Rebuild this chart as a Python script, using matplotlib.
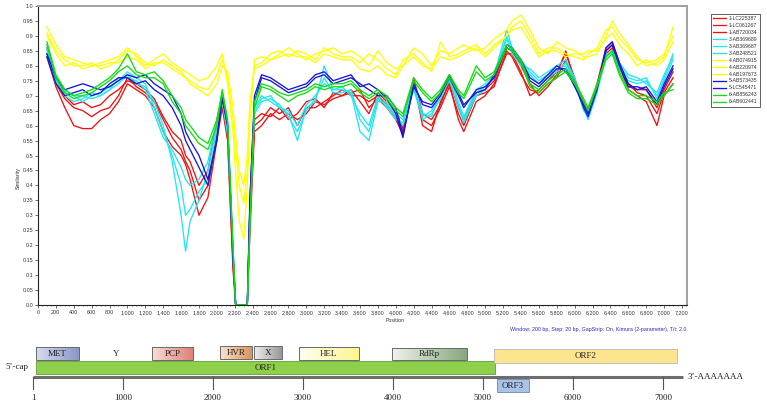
import matplotlib.pyplot as plt
import numpy as np
from matplotlib.colors import LinearSegmentedColormap
from matplotlib.patches import Rectangle
from matplotlib.ticker import MultipleLocator, FuncFormatter

plt.rcParams['font.family'] = ['Liberation Sans', 'DejaVu Sans']

# window positions (bp) shared by all similarity traces
pos = [100, 200, 300, 400, 500, 600, 700, 800, 900, 1000,
       1100, 1200, 1300, 1400, 1500, 1600, 1650, 1700, 1800, 1900,
       2000, 2060, 2120, 2180, 2210, 2250, 2300, 2340, 2370, 2420,
       2500, 2600, 2700, 2800, 2900, 3000, 3100, 3200, 3300, 3400,
       3500, 3600, 3700, 3800, 3900, 4000, 4080, 4200, 4300, 4400,
       4500, 4600, 4700, 4760, 4900, 5000, 5100, 5240, 5300, 5400,
       5500, 5600, 5700, 5800, 5900, 6000, 6100, 6150, 6250, 6350,
       6420, 6500, 6600, 6700, 6800, 6920, 7000, 7100]

lc225387 = [0.83, 0.73, 0.66, 0.60, 0.59, 0.59, 0.62, 0.64, 0.68, 0.74,
            0.72, 0.70, 0.66, 0.58, 0.53, 0.50, 0.47, 0.42, 0.30, 0.36,
            0.55, 0.66, 0.55, 0.12, 0.0, 0.0, 0.0, 0.0, 0.25, 0.58,
            0.60, 0.64, 0.62, 0.64, 0.62, 0.64, 0.68, 0.67, 0.69, 0.70,
            0.71, 0.72, 0.66, 0.69, 0.66, 0.62, 0.57, 0.75, 0.60, 0.58,
            0.68, 0.74, 0.62, 0.58, 0.68, 0.70, 0.74, 0.84, 0.84, 0.78,
            0.70, 0.72, 0.75, 0.78, 0.84, 0.76, 0.66, 0.66, 0.72, 0.85,
            0.87, 0.80, 0.72, 0.70, 0.68, 0.60, 0.70, 0.74]
lc061267 = [0.84, 0.74, 0.69, 0.66, 0.65, 0.63, 0.65, 0.66, 0.70, 0.76,
            0.73, 0.71, 0.68, 0.62, 0.56, 0.52, 0.48, 0.45, 0.35, 0.40,
            0.58, 0.68, 0.56, 0.14, 0.0, 0.0, 0.0, 0.0, 0.30, 0.60,
            0.62, 0.66, 0.64, 0.66, 0.60, 0.66, 0.66, 0.68, 0.70, 0.72,
            0.70, 0.70, 0.68, 0.70, 0.67, 0.63, 0.58, 0.74, 0.62, 0.60,
            0.66, 0.73, 0.64, 0.60, 0.70, 0.71, 0.73, 0.85, 0.83, 0.77,
            0.72, 0.71, 0.74, 0.76, 0.82, 0.74, 0.67, 0.65, 0.73, 0.84,
            0.86, 0.79, 0.74, 0.71, 0.70, 0.64, 0.71, 0.76]
ab720034 = [0.86, 0.75, 0.70, 0.67, 0.68, 0.66, 0.67, 0.70, 0.72, 0.75,
            0.74, 0.72, 0.69, 0.63, 0.58, 0.55, 0.50, 0.48, 0.40, 0.45,
            0.62, 0.70, 0.58, 0.16, 0.0, 0.0, 0.0, 0.0, 0.32, 0.62,
            0.64, 0.63, 0.66, 0.62, 0.64, 0.68, 0.69, 0.66, 0.71, 0.70,
            0.72, 0.68, 0.64, 0.71, 0.68, 0.65, 0.59, 0.76, 0.64, 0.62,
            0.67, 0.75, 0.66, 0.62, 0.71, 0.72, 0.75, 0.86, 0.85, 0.80,
            0.74, 0.70, 0.73, 0.77, 0.85, 0.75, 0.68, 0.64, 0.74, 0.86,
            0.88, 0.81, 0.73, 0.72, 0.72, 0.66, 0.72, 0.78]
ab369689 = [0.86, 0.75, 0.71, 0.70, 0.70, 0.69, 0.70, 0.72, 0.74, 0.77,
            0.74, 0.73, 0.68, 0.60, 0.48, 0.30, 0.18, 0.28, 0.35, 0.45,
            0.60, 0.69, 0.58, 0.18, 0.0, 0.0, 0.0, 0.0, 0.35, 0.66,
            0.70, 0.68, 0.66, 0.64, 0.55, 0.66, 0.68, 0.80, 0.72, 0.72,
            0.71, 0.58, 0.55, 0.68, 0.68, 0.64, 0.62, 0.73, 0.62, 0.64,
            0.69, 0.76, 0.66, 0.61, 0.70, 0.72, 0.77, 0.92, 0.86, 0.82,
            0.78, 0.75, 0.77, 0.79, 0.80, 0.74, 0.66, 0.62, 0.71, 0.83,
            0.85, 0.80, 0.76, 0.75, 0.76, 0.69, 0.76, 0.84]
ab369687 = [0.85, 0.76, 0.72, 0.70, 0.68, 0.70, 0.71, 0.73, 0.75, 0.78,
            0.76, 0.74, 0.66, 0.58, 0.50, 0.40, 0.30, 0.32, 0.38, 0.42,
            0.58, 0.68, 0.57, 0.17, 0.0, 0.0, 0.0, 0.0, 0.33, 0.64,
            0.68, 0.69, 0.67, 0.63, 0.58, 0.65, 0.69, 0.76, 0.71, 0.71,
            0.72, 0.62, 0.58, 0.69, 0.67, 0.63, 0.60, 0.72, 0.63, 0.65,
            0.70, 0.75, 0.67, 0.62, 0.71, 0.73, 0.76, 0.90, 0.85, 0.81,
            0.77, 0.74, 0.76, 0.78, 0.81, 0.75, 0.65, 0.63, 0.72, 0.84,
            0.84, 0.79, 0.75, 0.74, 0.75, 0.70, 0.75, 0.82]
ab248521 = [0.84, 0.74, 0.70, 0.68, 0.69, 0.71, 0.70, 0.72, 0.76, 0.76,
            0.75, 0.72, 0.64, 0.56, 0.52, 0.46, 0.42, 0.40, 0.42, 0.48,
            0.62, 0.70, 0.59, 0.17, 0.0, 0.0, 0.0, 0.0, 0.34, 0.65,
            0.69, 0.70, 0.66, 0.65, 0.60, 0.67, 0.70, 0.74, 0.72, 0.73,
            0.70, 0.64, 0.60, 0.70, 0.66, 0.62, 0.61, 0.74, 0.64, 0.63,
            0.71, 0.77, 0.68, 0.63, 0.72, 0.74, 0.77, 0.89, 0.84, 0.80,
            0.79, 0.76, 0.78, 0.80, 0.82, 0.76, 0.66, 0.64, 0.73, 0.83,
            0.85, 0.81, 0.77, 0.76, 0.74, 0.71, 0.77, 0.83]
ab074915 = [0.93, 0.87, 0.83, 0.82, 0.81, 0.80, 0.81, 0.82, 0.83, 0.86,
            0.83, 0.80, 0.82, 0.84, 0.81, 0.79, 0.78, 0.77, 0.75, 0.76,
            0.80, 0.84, 0.74, 0.58, 0.44, 0.28, 0.22, 0.40, 0.62, 0.82,
            0.83, 0.82, 0.84, 0.86, 0.84, 0.82, 0.84, 0.85, 0.86, 0.84,
            0.85, 0.83, 0.80, 0.85, 0.81, 0.79, 0.80, 0.86, 0.84, 0.80,
            0.85, 0.84, 0.86, 0.87, 0.85, 0.86, 0.89, 0.92, 0.95, 0.97,
            0.92, 0.86, 0.84, 0.88, 0.86, 0.85, 0.83, 0.83, 0.84, 0.90,
            0.95, 0.91, 0.87, 0.83, 0.80, 0.81, 0.83, 0.93]
ab220974 = [0.91, 0.85, 0.82, 0.80, 0.80, 0.81, 0.79, 0.80, 0.82, 0.85,
            0.84, 0.81, 0.80, 0.82, 0.80, 0.78, 0.76, 0.75, 0.73, 0.72,
            0.77, 0.82, 0.76, 0.62, 0.52, 0.40, 0.34, 0.45, 0.66, 0.80,
            0.81, 0.84, 0.85, 0.83, 0.85, 0.84, 0.82, 0.86, 0.84, 0.83,
            0.83, 0.81, 0.84, 0.82, 0.79, 0.77, 0.82, 0.84, 0.81, 0.78,
            0.88, 0.83, 0.84, 0.85, 0.87, 0.84, 0.87, 0.90, 0.93, 0.95,
            0.90, 0.84, 0.86, 0.86, 0.84, 0.83, 0.82, 0.84, 0.86, 0.92,
            0.93, 0.89, 0.86, 0.82, 0.81, 0.82, 0.84, 0.90]
ab197673 = [0.90, 0.84, 0.80, 0.81, 0.79, 0.80, 0.80, 0.81, 0.81, 0.83,
            0.82, 0.79, 0.81, 0.81, 0.79, 0.77, 0.76, 0.74, 0.72, 0.70,
            0.74, 0.80, 0.78, 0.66, 0.56, 0.45, 0.40, 0.50, 0.68, 0.79,
            0.80, 0.82, 0.83, 0.84, 0.83, 0.83, 0.81, 0.84, 0.83, 0.82,
            0.82, 0.79, 0.78, 0.80, 0.77, 0.76, 0.80, 0.83, 0.80, 0.79,
            0.83, 0.82, 0.83, 0.84, 0.86, 0.83, 0.86, 0.90, 0.92, 0.93,
            0.88, 0.83, 0.85, 0.85, 0.83, 0.84, 0.84, 0.85, 0.85, 0.89,
            0.91, 0.87, 0.84, 0.80, 0.82, 0.80, 0.82, 0.88]
ab573435 = [0.84, 0.76, 0.72, 0.73, 0.74, 0.73, 0.72, 0.73, 0.75, 0.77,
            0.76, 0.77, 0.74, 0.72, 0.70, 0.64, 0.58, 0.55, 0.50, 0.42,
            0.55, 0.70, 0.60, 0.17, 0.0, 0.0, 0.0, 0.0, 0.36, 0.70,
            0.77, 0.76, 0.74, 0.72, 0.73, 0.74, 0.77, 0.78, 0.75, 0.76,
            0.77, 0.73, 0.74, 0.72, 0.69, 0.64, 0.56, 0.74, 0.67, 0.66,
            0.70, 0.76, 0.70, 0.66, 0.72, 0.73, 0.76, 0.87, 0.86, 0.82,
            0.76, 0.74, 0.77, 0.80, 0.78, 0.74, 0.66, 0.63, 0.72, 0.86,
            0.88, 0.81, 0.74, 0.72, 0.73, 0.68, 0.74, 0.80]
lc545471 = [0.83, 0.74, 0.70, 0.71, 0.72, 0.70, 0.71, 0.74, 0.76, 0.76,
            0.74, 0.75, 0.72, 0.70, 0.66, 0.60, 0.55, 0.52, 0.46, 0.40,
            0.56, 0.69, 0.60, 0.16, 0.0, 0.0, 0.0, 0.0, 0.35, 0.68,
            0.76, 0.75, 0.73, 0.71, 0.72, 0.73, 0.76, 0.77, 0.74, 0.75,
            0.76, 0.74, 0.72, 0.70, 0.70, 0.66, 0.57, 0.73, 0.68, 0.67,
            0.71, 0.77, 0.71, 0.67, 0.71, 0.72, 0.77, 0.86, 0.85, 0.81,
            0.75, 0.73, 0.76, 0.79, 0.79, 0.73, 0.67, 0.64, 0.73, 0.85,
            0.87, 0.80, 0.73, 0.73, 0.72, 0.67, 0.73, 0.79]
ab856243 = [0.88, 0.77, 0.72, 0.70, 0.71, 0.72, 0.74, 0.76, 0.79, 0.84,
            0.78, 0.77, 0.78, 0.75, 0.70, 0.66, 0.62, 0.60, 0.56, 0.54,
            0.62, 0.72, 0.62, 0.20, 0.0, 0.0, 0.0, 0.0, 0.28, 0.68,
            0.74, 0.73, 0.71, 0.70, 0.71, 0.72, 0.74, 0.73, 0.74, 0.74,
            0.75, 0.72, 0.70, 0.72, 0.70, 0.66, 0.64, 0.76, 0.72, 0.69,
            0.72, 0.77, 0.72, 0.70, 0.80, 0.76, 0.78, 0.87, 0.86, 0.82,
            0.74, 0.72, 0.75, 0.77, 0.79, 0.75, 0.69, 0.66, 0.74, 0.83,
            0.85, 0.78, 0.72, 0.70, 0.70, 0.68, 0.71, 0.72]
ab602441 = [0.87, 0.76, 0.71, 0.69, 0.70, 0.71, 0.73, 0.75, 0.78, 0.80,
            0.77, 0.76, 0.76, 0.74, 0.68, 0.64, 0.60, 0.58, 0.54, 0.52,
            0.60, 0.71, 0.61, 0.19, 0.0, 0.0, 0.0, 0.0, 0.26, 0.66,
            0.73, 0.72, 0.70, 0.68, 0.70, 0.71, 0.73, 0.72, 0.73, 0.73,
            0.74, 0.71, 0.69, 0.71, 0.69, 0.65, 0.63, 0.75, 0.71, 0.68,
            0.71, 0.76, 0.71, 0.69, 0.78, 0.75, 0.77, 0.86, 0.85, 0.81,
            0.73, 0.71, 0.74, 0.76, 0.78, 0.74, 0.68, 0.65, 0.73, 0.82,
            0.84, 0.77, 0.71, 0.69, 0.69, 0.67, 0.70, 0.74]

names = ['1-LC225387', '1-LC061267', '1-AB720034', '3-AB369689', '3-AB369687',
         '3-AB248521', '4-AB074915', '4-AB220974', '4-AB197673', '5-AB573435',
         '5-LC545471', '6-AB856243', '6-AB602441']
series = [lc225387, lc061267, ab720034, ab369689, ab369687, ab248521,
          ab074915, ab220974, ab197673, ab573435, lc545471, ab856243, ab602441]
colors = ['#ee1111'] * 3 + ['#22e6f2'] * 3 + ['#ffff00'] * 3 + ['#1515dd'] * 2 + ['#11dd11'] * 2

# genome map (HEV) regions: name, start, end
domains = [('MET', 34, 512), ('PCP', 1323, 1779), ('HVR', 2078, 2433),
           ('X', 2456, 2767), ('HEL', 2956, 3622), ('RdRp', 3989, 4822)]
orf1 = (34, 5134)
orf2 = (5122, 7156)
orf3 = (5156, 5511)
genome_len = 7223
map_ticks = [1, 1000, 2000, 3000, 4000, 5000, 6000, 7000]

W, H = 767, 405
fig = plt.figure(figsize=(W / 100, H / 100), dpi=100)

# ---------- similarity plot ----------
ax = fig.add_axes([38 / W, 1 - 305 / H, 649 / W, 299 / H])
for s, c, n in zip(series, colors, names):
    ax.plot(pos, s, color=c, lw=0.95, label=n)

ax.set_xlim(0, 7256)
ax.set_ylim(0, 1.0)
ax.xaxis.set_major_locator(MultipleLocator(200))
ax.xaxis.set_minor_locator(MultipleLocator(50))
ax.yaxis.set_major_locator(MultipleLocator(0.05))
ax.xaxis.set_major_formatter(FuncFormatter(lambda v, p: f'{int(v):,}'))
ax.yaxis.set_major_formatter(FuncFormatter(lambda v, p: f'{v:.2f}'.rstrip('0') if round(v * 100) % 10 else f'{v:.1f}'))
ax.tick_params(labelsize=3.9, length=2, width=0.5, pad=1.5, colors='#333333')
ax.tick_params(which='minor', length=1, width=0.4, colors='#333333')
for sp in ['left', 'bottom']:
    ax.spines[sp].set_color('#222222')
    ax.spines[sp].set_linewidth(0.8)
for sp in ['top', 'right']:
    ax.spines[sp].set_color('#a0a0a0')
    ax.spines[sp].set_linewidth(1.4)

fig.text(18 / W, 1 - 178 / H, 'Similarity', rotation=90, ha='center', va='center', fontsize=3.8, color='#333333')
fig.text(395 / W, 1 - 321 / H, 'Position', ha='center', va='center', fontsize=3.8, color='#333333')
fig.text(686 / W, 1 - 329 / H, 'Window: 200 bp, Step: 20 bp, GapStrip: On, Kimura (2-parameter), T/t: 2.0',
         ha='right', va='center', fontsize=3.8, color='#2a2ad0')

leg = fig.legend(loc='upper left', bbox_to_anchor=(708 / W, 1 - 11 / H), fontsize=3.7,
                 handlelength=2.6, handletextpad=0.5, labelspacing=0.38, borderpad=0.45,
                 fancybox=False, edgecolor='#444444', framealpha=1)
leg.get_frame().set_linewidth(0.6)
for t in leg.get_texts():
    t.set_color('#333333')

# ---------- genome map ----------
gx = fig.add_axes([0, 0, 1, 70 / H])
x_left = 1 - 33 / 0.09
x_right = 1 + (W - 33) / 0.09
gx.set_axis_off()
serif = ['Liberation Serif', 'DejaVu Serif']


def grad_box(x0, x1, y0, y1, c0, c1, edge, label):
    cmap = LinearSegmentedColormap.from_list('g', [c0, c1])
    gx.imshow(np.linspace(0, 1, 64).reshape(1, -1), cmap=cmap, extent=(x0, x1, y1, y0),
              aspect='auto', interpolation='bilinear', zorder=2)
    gx.add_patch(Rectangle((x0, y0), x1 - x0, y1 - y0, fill=False, ec=edge, lw=0.7, zorder=3))
    gx.text((x0 + x1) / 2, (y0 + y1) / 2 + 0.5, label, ha='center', va='center',
            fontsize=6.5, family=serif, color='#222222', zorder=4)


box_colors = {'MET': ('#d6dcef', '#8796c8'), 'PCP': ('#f9ddd5', '#e07f74'),
              'HVR': ('#f9e3cc', '#d8965f'), 'X': ('#eeeeee', '#989898'),
              'HEL': ('#fffff2', '#fdf690'), 'RdRp': ('#eef3eb', '#88a67e')}
box_rows = {'MET': (347, 360), 'PCP': (347, 360), 'HVR': (346, 359),
            'X': (346, 359), 'HEL': (347, 360), 'RdRp': (348, 360)}
for name, a, b in domains:
    c0, c1 = box_colors[name]
    y0, y1 = box_rows[name]
    grad_box(a, b, y0, y1, c0, c1, '#6a6a6a', name)
gx.text(922, 354, 'Y', ha='center', va='center', fontsize=6.5, family=serif, color='#222222')

# ORF bars
gx.add_patch(Rectangle((orf1[0], 361), orf1[1] - orf1[0], 13, fc='#8dd04a', ec='#6a9a3a', lw=0.6, zorder=2))
gx.text((orf1[0] + orf1[1]) / 2, 368, 'ORF1', ha='center', va='center', fontsize=6.5, family=serif, color='#222222')
gx.add_patch(Rectangle((orf2[0], 349), orf2[1] - orf2[0], 14, fc='#fde58f', ec='#b8b8b8', lw=0.6, zorder=2))
gx.text((orf2[0] + orf2[1]) / 2, 356.5, 'ORF2', ha='center', va='center', fontsize=6.5, family=serif, color='#222222')
gx.add_patch(Rectangle((orf3[0], 379), orf3[1] - orf3[0], 13, fc='#a8c2e8', ec='#6f84a6', lw=0.6, zorder=2))
gx.text((orf3[0] + orf3[1]) / 2, 386, 'ORF3', ha='center', va='center', fontsize=6.5, family=serif, color='#222222')

# genome axis line and ticks
gx.plot([1, genome_len], [377, 377], color='#6e6e6e', lw=2.2, solid_capstyle='butt', zorder=1)
for t in map_ticks:
    gx.plot([t, t], [377, 389], color='#555555', lw=0.8, zorder=1)
    gx.text(t, 398, str(t), ha='center', va='center', fontsize=6.5, family=serif, color='#222222')
gx.text(5 / 0.09 + x_left, 367, '5\u2019-cap', ha='left', va='center', fontsize=6.5, family=serif, color='#222222')
gx.text(688 / 0.09 + x_left, 377, '3\u2019-AAAAAAA', ha='left', va='center', fontsize=6.5, family=serif, color='#222222')

gx.set_xlim(x_left, x_right)
gx.set_ylim(405, 335)

fig.savefig('out.png', dpi=100)
